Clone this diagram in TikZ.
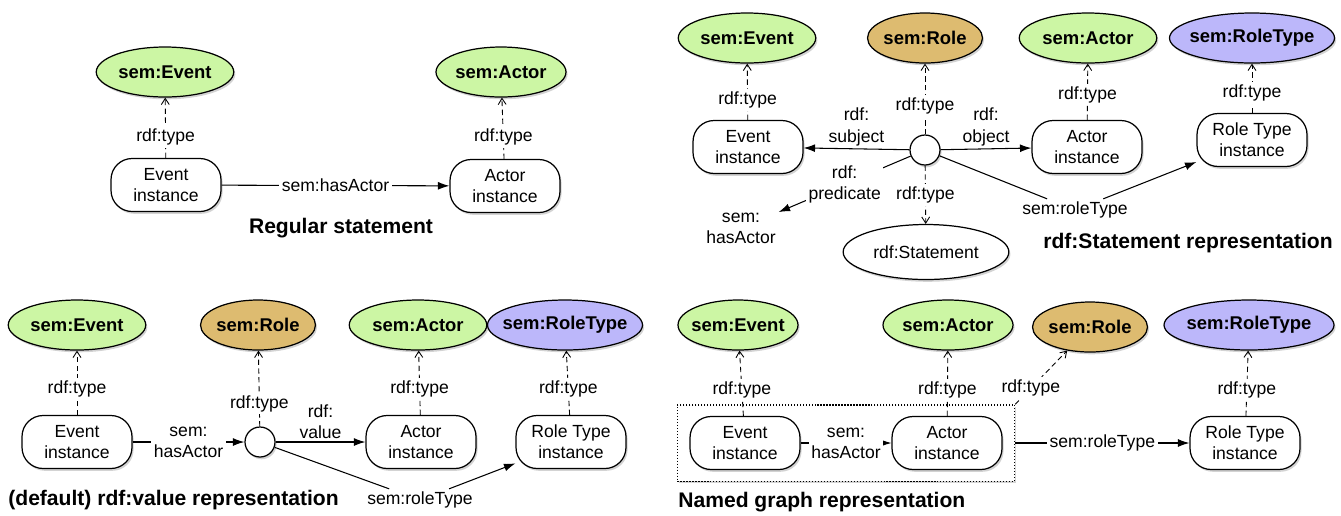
\documentclass[tikz,border=0pt]{standalone}
\usepackage{fontspec}
\setmainfont{Liberation Sans}
\usetikzlibrary{arrows.meta,shadows,shapes.geometric,fit,backgrounds}

\definecolor{evgreen}{RGB}{204,246,164}
\definecolor{roletan}{RGB}{221,187,112}
\definecolor{rtviolet}{RGB}{188,183,250}

\tikzset{
  softshadow/.style={drop shadow={shadow xshift=0.9pt, shadow yshift=-1.3pt, opacity=0.35}},
  cls/.style={ellipse, draw, line width=0.7pt, fill=#1, minimum height=1cm, inner xsep=-20pt,
    font=\bfseries\fontsize{10.5}{12}\selectfont, softshadow},
  inst/.style={rectangle, rounded corners=12pt, draw, line width=0.7pt, fill=white,
    minimum width=2.2cm, minimum height=1.06cm, align=center,
    font=\fontsize{10}{12}\selectfont, softshadow},
  blank/.style={circle, draw, line width=0.7pt, fill=white, minimum size=0.6cm, inner sep=0pt, softshadow},
  lbl/.style={fill=white, inner sep=1.5pt, align=center, font=\fontsize{10}{12}\selectfont},
  txt/.style={inner sep=1.5pt, align=center, font=\fontsize{10}{12}\selectfont},
  title/.style={inner sep=0pt, font=\bfseries\fontsize{12}{14}\selectfont},
  typeof/.style={densely dashed, line width=0.5pt, -{Straight Barb[length=3.5pt,width=4.5pt]}},
  rel/.style={line width=0.6pt, -{Latex[length=6.5pt,width=4.5pt]}},
}

\begin{document}
\begin{tikzpicture}[x=0.02cm, y=-0.02cm]
  \useasboundingbox (0,0) rectangle (1341,515);

  %Regular statement
  \node[cls=evgreen, minimum width=2.75cm] (rsEvent) at (165,72) {sem:Event};
  \node[cls=evgreen, minimum width=2.6cm] (rsActor) at (501,72) {sem:Actor};
  \node[inst] (rsEventI) at (166,185) {Event\\instance};
  \node[inst] (rsActorI) at (505,186) {Actor\\instance};
  \node[title] (rsTitle) at (341,228) {Regular statement};

  \draw[typeof] (rsEventI) -- node[lbl, pos=0.35] {rdf:type} (rsEvent);
  \draw[typeof] (rsActorI) -- node[lbl, pos=0.35] {rdf:type} (rsActor);
  \draw[rel] (rsEventI) -- node[lbl] {sem:hasActor} (rsActorI);

  %rdf:Statement representation
  \node[cls=evgreen, minimum width=2.75cm] (stEvent) at (747,38) {sem:Event};
  \node[cls=roletan, minimum width=2.3cm] (stRole) at (925,38) {sem:Role};
  \node[cls=evgreen, minimum width=2.75cm] (stActor) at (1088,38) {sem:Actor};
  \node[cls=rtviolet, minimum width=3.3cm] (stRoleType) at (1252,38) {sem:RoleType};
  \node[inst] (stEventI) at (748,147) {Event\\instance};
  \node[blank] (stStmt) at (925,150) {};
  \node[inst] (stActorI) at (1087,147) {Actor\\instance};
  \node[inst] (stRTI) at (1252,140) {Role Type\\instance};
  \node[txt] (stPred) at (741,228) {sem:\\hasActor};
  \node[ellipse, draw, line width=0.7pt, fill=white, minimum width=3cm, minimum height=1.1cm,
        font=\fontsize{10}{12}\selectfont, softshadow] (stStatement) at (926,252) {rdf:Statement};
  \node[txt] (stRT) at (1075,210) {sem:roleType};
  \node[title] (stTitle) at (1188,243) {rdf:Statement representation};

  \draw[typeof] (stEventI) -- node[lbl, pos=0.35] {rdf:type} (stEvent);
  \draw[typeof] (stStmt) -- node[lbl, pos=0.4] {rdf:type} (stRole);
  \draw[typeof] (stActorI) -- node[lbl, pos=0.45] {rdf:type} (stActor);
  \draw[typeof] (stRTI) -- node[lbl, pos=0.4] {rdf:type} (stRoleType);
  \draw[rel] (stStmt) -- node[txt, above] {rdf:\\subject} (stEventI);
  \draw[rel] (stStmt) -- node[txt, above] {rdf:\\object} (stActorI);
  \draw[rel] (stStmt) -- node[lbl] {rdf:\\predicate} (stPred);
  \draw[typeof] (stStmt) -- node[lbl] {rdf:type} (stStatement);
  \draw[rel] (stStmt) -- (stRT) -- (stRTI);

  %(default) rdf:value representation
  \node[cls=evgreen, minimum width=2.75cm] (dlEvent) at (77,325) {sem:Event};
  \node[cls=roletan, minimum width=2.3cm] (dlRole) at (258,325) {sem:Role};
  \node[cls=evgreen, minimum width=2.75cm] (dlActor) at (418,325) {sem:Actor};
  \node[cls=rtviolet, minimum width=3.1cm] (dlRoleType) at (565,325) {sem:RoleType};
  \node[inst] (dlEventI) at (77,442) {Event\\instance};
  \node[blank] (dlStmt) at (260,442) {};
  \node[inst] (dlActorI) at (421,442) {Actor\\instance};
  \node[inst] (dlRTI) at (571,442) {Role Type\\instance};
  \node[txt] (dlRT) at (420,500) {sem:roleType};
  \node[title, anchor=west] (dlTitle) at (8,500) {(default) rdf:value representation};

  \draw[typeof] (dlEventI) -- node[lbl, pos=0.4] {rdf:type} (dlEvent);
  \draw[typeof] (dlStmt) -- node[lbl, pos=0.3] {rdf:type} (dlRole);
  \draw[typeof] (dlActorI) -- node[lbl, pos=0.4] {rdf:type} (dlActor);
  \draw[typeof] (dlRTI) -- node[lbl, pos=0.4] {rdf:type} (dlRoleType);
  \draw[rel] (dlEventI) -- node[lbl] {sem:\\hasActor} (dlStmt);
  \draw[rel] (dlStmt) -- node[txt, above] {rdf:\\value} (dlActorI);
  \draw[rel] (dlStmt) -- (dlRT) -- (dlRTI);

  %Named graph representation
  \node[cls=evgreen, minimum width=2.4cm] (ngEvent) at (738,325) {sem:Event};
  \node[cls=evgreen, minimum width=2.6cm] (ngActor) at (948,325) {sem:Actor};
  \node[cls=roletan, minimum width=2.3cm] (ngRole) at (1090,327) {sem:Role};
  \node[cls=rtviolet, minimum width=3.4cm] (ngRoleType) at (1249,325) {sem:RoleType};
  \node[inst] (ngEventI) at (745,443) {Event\\instance};
  \node[inst] (ngActorI) at (947,443) {Actor\\instance};
  \node[inst] (ngRTI) at (1245,443) {Role Type\\instance};
  \node[title, anchor=west] (ngTitle) at (678,502) {Named graph representation};
  \begin{scope}[on background layer]
    \node[draw, densely dotted, line width=0.7pt, fill=white, inner xsep=0.24cm, inner ysep=0.22cm,
          softshadow, fit=(ngEventI)(ngActorI)] (ngGraph) {};
  \end{scope}

  \draw[typeof] (ngEventI) -- node[lbl, pos=0.4] {rdf:type} (ngEvent);
  \draw[typeof] (ngActorI) -- node[lbl, pos=0.4] {rdf:type} (ngActor);
  \draw[typeof] (ngGraph.north east) -- node[lbl, pos=0.3] {rdf:type} (ngRole);
  \draw[typeof] (ngRTI) -- node[lbl, pos=0.4] {rdf:type} (ngRoleType);
  \draw[rel] (ngEventI) -- node[lbl] {sem:\\hasActor} (ngActorI);
  \draw[rel] (ngGraph) -- node[lbl] {sem:roleType} (ngRTI);
\end{tikzpicture}
\end{document}
